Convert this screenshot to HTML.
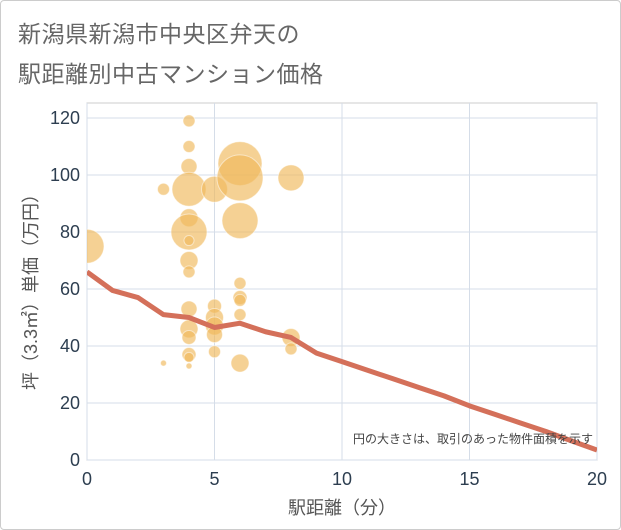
<!DOCTYPE html>
<html><head><meta charset="utf-8"><style>
body{margin:0;background:#fff}
#wrap{position:relative;width:619px;height:528px;border:1px solid #ccc;border-radius:4px;background:#fff;font-family:"Liberation Sans","Noto Sans CJK JP",sans-serif}
.t{position:absolute;left:17px;color:#666;font-size:23px;letter-spacing:0.5px}
</style></head><body>
<div id="wrap">
<div class="t" style="top:14px">新潟県新潟市中央区弁天の</div>
<div class="t" style="top:54px">駅距離別中古マンション価格</div>
<svg id="svg" width="621" height="530" style="position:absolute;left:-1px;top:-1px"></svg>
</div>
<script>
const xTicks=[0,5,10,15,20];
const yTicks=[0,20,40,60,80,100,120];
const bubbleX=[4,4,4,3,4,5,6,6,8,4,4,4,6,4,4,6,6,6,6,4,4,4,4,4,4,3,5,5,5,5,5,6,8,8,0];
const bubbleY=[119,110,103,95,95,95,104,99,99,85,80,77,84,70,66,62,57,56,51,53,46,43,37,36,33,34,54,50,47,44,38,34,43,39,75];
const bubbleR=[6,6,8,6,17,13,22,23,13,9,18,5,18,9,6,6,7,6,6,8,9,7,7,5,3,3,7,9,9,8,6,9,9,6,17];
const lineX=[0,1,2,3,4,5,6,7,8,9,10,11,12,13,14,15,16,17,18,19,20];
const lineY=[66,59.5,57,51,50,46.5,48,45,43,37.5,34.5,31.5,28.5,25.5,22.5,19,16,13,10,6.7,3.5];
const NS="http://www.w3.org/2000/svg";
const svg=document.getElementById('svg');
const L=87,R=597,T=103,B=460;
const xs=v=>L+(R-L)*v/20;
const ys=v=>B-(B-118)*v/120;
function mk(tag,attrs,parent){const e=document.createElementNS(NS,tag);for(const k in attrs)e.setAttribute(k,attrs[k]);(parent||svg).appendChild(e);return e;}
const bg=mk('rect',{x:L,y:T,width:R-L,height:B-T,fill:'#fff',stroke:'#ccc'});


xTicks.forEach(v=>{
 const g=mk('line',{x1:xs(v),x2:xs(v),y1:T,y2:B,stroke:'#d5dde8','stroke-width':1});
 
 
 const t=mk('text',{x:xs(v),y:B+25,'text-anchor':'middle','font-size':18,fill:'#2d3e50'});
 t.textContent=v;
 
 
});
yTicks.forEach(v=>{
 const g=mk('line',{x1:L,x2:R,y1:ys(v),y2:ys(v),stroke:'#d5dde8','stroke-width':1});
 
 
 const t=mk('text',{x:L-7,y:ys(v)+6,'text-anchor':'end','font-size':18,fill:'#2d3e50'});
 t.textContent=v;
 
 
});
const cp=mk('clipPath',{id:'cp'});mk('rect',{x:L,y:T,width:R-L,height:B-T},cp);
const gb=mk('g',{'clip-path':'url(#cp)'});


bubbleX.forEach((x,i)=>{
 const c=mk('circle',{cx:xs(x),cy:ys(bubbleY[i]),r:bubbleR[i],fill:'#efb95a','fill-opacity':0.65,stroke:'#fff','stroke-opacity':0.5},gb);
 
 
});
const p=mk('polyline',{points:lineX.map((x,i)=>xs(x)+','+ys(lineY[i])).join(' '),fill:'none',stroke:'#d4705a','stroke-width':5,'stroke-linejoin':'round','clip-path':'url(#cp)'});


const note=mk('text',{x:R-4,y:443,'text-anchor':'end','font-size':12,fill:'#444'});
note.textContent='円の大きさは、取引のあった物件面積を示す';


const xt=mk('text',{x:(L+R)/2,y:514,'text-anchor':'middle','font-size':18,fill:'#555'});
xt.textContent='駅距離（分）';


const yt=mk('text',{x:0,y:0,'text-anchor':'middle','font-size':18,fill:'#555',transform:`translate(37,${(T+B)/2+6}) rotate(-90)`});
yt.textContent='坪（3.3㎡）単価（万円）';


</script>
</body></html>
